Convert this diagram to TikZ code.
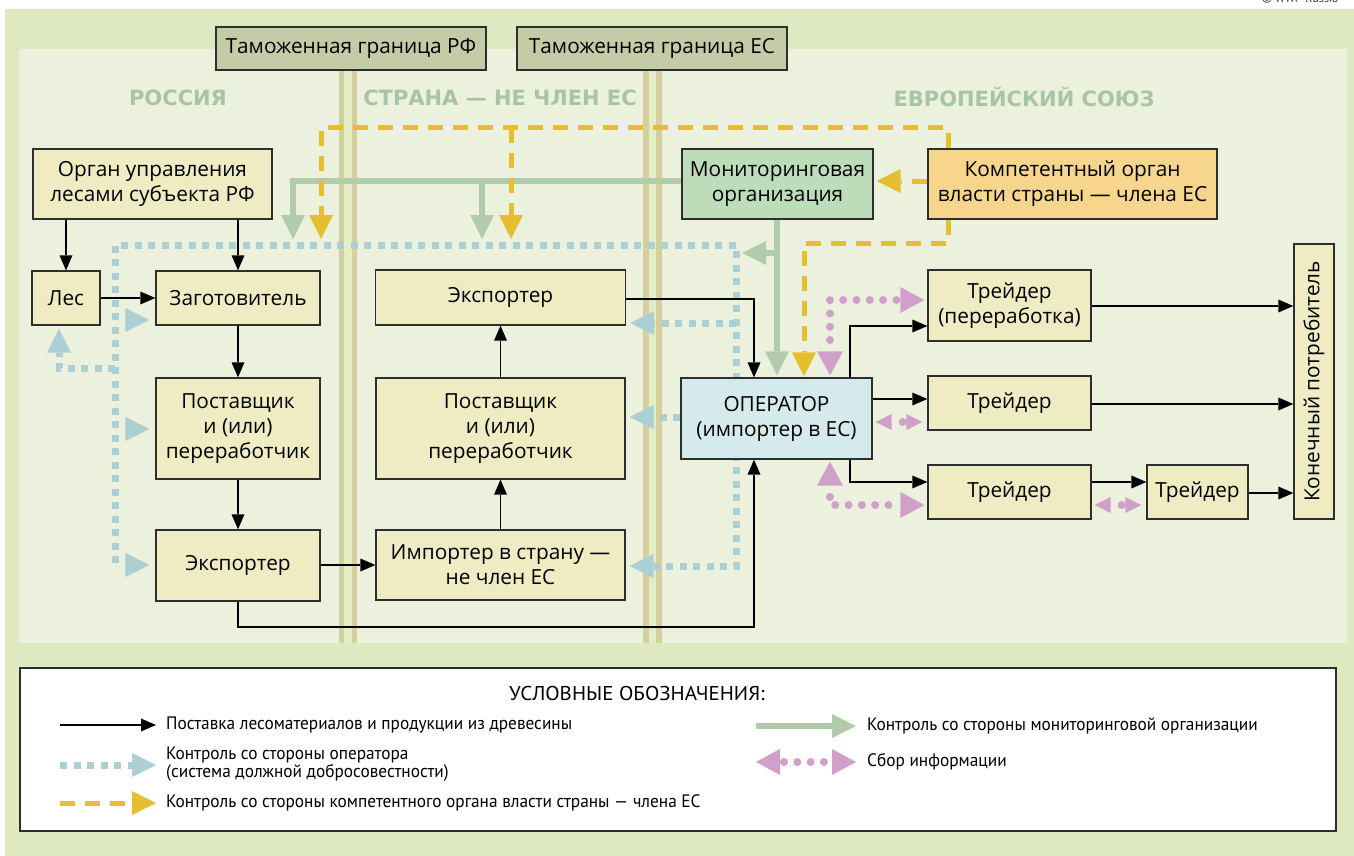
\documentclass[tikz,border=0pt]{standalone}
\usepackage{fontspec}
\usepackage{graphicx}
\setmainfont{PT Sans}
\newfontfamily\boxfamily{Open Sans}
\newfontfamily\headfont{DejaVu Sans}
\newfontfamily\legfont[FakeStretch=0.96]{PT Sans}
\newfontfamily\titfont[FakeStretch=1.05]{PT Sans}
\usetikzlibrary{arrows.meta}
\pgfdeclarelayer{behind}
\pgfsetlayers{behind,main}
\definecolor{outerbg}{HTML}{DFE9C1}
\definecolor{innerbg}{HTML}{EBF1DC}
\definecolor{beige}{HTML}{EFEBC3}
\definecolor{custc}{HTML}{C3CCA7}
\definecolor{monc}{HTML}{BDDCBA}
\definecolor{compc}{HTML}{F6D68C}
\definecolor{operc}{HTML}{D5EAEA}
\definecolor{tanc}{HTML}{D5CF9E}
\definecolor{gapc}{HTML}{E3EDC6}
\definecolor{bdot}{HTML}{ABCFD3}
\definecolor{grn}{HTML}{B0CCAB}
\definecolor{yel}{HTML}{E6BF30}
\definecolor{pinkc}{HTML}{D0A0CA}
\definecolor{headc}{HTML}{A9C4A4}
\definecolor{boxline}{HTML}{2E2E2E}
\newcommand\bfnt{\boxfamily\fontsize{20.8}{25}\selectfont}
\newcommand\lfnt{\legfont\fontsize{18}{18}\selectfont}
\begin{document}
\begin{tikzpicture}[x=1pt,y=-1pt,
  box/.style={draw=boxline, line width=1.3pt, fill=beige, inner sep=0pt, align=center, font=\bfnt},
  heading/.style={font=\headfont\bfseries\fontsize{21}{21}\selectfont, text=headc},
  flow/.style={draw=black, line width=1.3pt, -{Triangle[length=15pt,width=13pt,line width=0pt]}},
  bctrl/.style={draw=bdot, line width=7pt, dash pattern=on 7pt off 6.5pt, -{Triangle[length=24pt,width=24pt,line width=0pt]}},
  btip/.style={bctrl, dash pattern=on 0pt off 300pt, dash phase=150pt},
  gline/.style={draw=grn, line width=5.5pt, -{Triangle[length=24pt,width=24pt,line width=0pt]}},
  ydash/.style={draw=yel, line width=5pt, dash pattern=on 15pt off 10pt, -{Triangle[length=24pt,width=24pt,line width=0pt]}},
  pdot/.style={draw=pinkc, line width=8pt, line cap=round, dash pattern=on 0pt off 13.3pt, dash phase=2pt,
     {Triangle[length=24pt,width=26pt,line width=0pt]}-{Triangle[length=24pt,width=26pt,line width=0pt]}},
  psmall/.style={draw=pinkc, line width=8pt, line cap=round, dash pattern=on 0pt off 60pt, dash phase=49pt,
     {Triangle[length=16pt,width=16pt,line width=0pt]}-{Triangle[length=16pt,width=16pt,line width=0pt]}},
  leg/.style={font=\lfnt, anchor=west, align=left, inner sep=0pt}
]
\useasboundingbox (0,0) rectangle (1354,856);
\begin{pgfonlayer}{behind}
\fill[white] (0,0) rectangle (1354,856);
\fill[outerbg] (5,9) rectangle (1354,856);
\fill[innerbg] (19,49) rectangle (1347,643);
% border lines
\fill[tanc] (339,70) rectangle (344,643);
\fill[gapc] (344,70) rectangle (352,643);
\fill[tanc] (352,70) rectangle (357,643);
\fill[tanc] (643,70) rectangle (649,643);
\fill[gapc] (649,70) rectangle (656,643);
\fill[tanc] (656,70) rectangle (662,643);
\end{pgfonlayer}
\node[anchor=base west, font=\fontsize{12}{12}\selectfont, text=black!75, inner sep=0pt] (copy) at (1262,3) {© WWF-Russia};
% customs boxes
\node[box, fill=custc, minimum width=270pt, minimum height=43pt] (custRF) at (351,48.5) {Таможенная граница РФ};
\node[box, fill=custc, minimum width=270pt, minimum height=43pt] (custEC) at (652,48.5) {Таможенная граница ЕС};
% headings
\node[heading] (hRU) at (178,98) {РОССИЯ};
\node[heading] (hNC) at (500,98) {СТРАНА — НЕ ЧЛЕН ЕС};
\node[heading] (hEU) at (1024,97) {ЕВРОПЕЙСКИЙ СОЮЗ};
% boxes
\node[box, minimum width=239pt, minimum height=70pt] (organ) at (152.5,184) {Орган управления\\лесами субъекта РФ};
\node[box, minimum width=68pt, minimum height=54pt] (les) at (66,298) {Лес};
\node[box, minimum width=164pt, minimum height=54pt] (zag) at (238,298) {Заготовитель};
\node[box, minimum width=164pt, minimum height=101pt] (post1) at (238,428.5) {Поставщик\\и (или)\\переработчик};
\node[box, minimum width=164pt, minimum height=71pt] (exp1) at (238,565.5) {Экспортер};
\node[box, minimum width=250pt, minimum height=55pt] (exp2) at (500.5,297.5) {Экспортер};
\node[box, minimum width=249pt, minimum height=101pt] (post2) at (500.5,428.5) {Поставщик\\и (или)\\переработчик};
\node[box, minimum width=249pt, minimum height=70pt] (imp) at (500.5,565) {Импортер в страну —\\не член ЕС};
\node[box, fill=monc, minimum width=191pt, minimum height=70pt] (mon) at (777.5,184) {Мониторинговая\\организация};
\node[box, fill=compc, minimum width=289pt, minimum height=70pt] (comp) at (1072.5,184) {Компетентный орган\\власти страны — члена ЕС};
\node[box, fill=operc, minimum width=191pt, minimum height=81pt] (oper) at (776.5,418.5) {ОПЕРАТОР\\(импортер в ЕС)};
\node[box, minimum width=163pt, minimum height=71pt] (tr1) at (1009.5,305.5) {Трейдер\\(переработка)};
\node[box, minimum width=163pt, minimum height=54pt] (tr2) at (1009.5,403) {Трейдер};
\node[box, minimum width=163pt, minimum height=54pt] (tr3) at (1009.5,492) {Трейдер};
\node[box, minimum width=101pt, minimum height=54pt] (tr4) at (1197.5,492) {Трейдер};
\node[box, minimum width=40pt, minimum height=275pt] (cons) at (1314,381.5) {\rotatebox{90}{Конечный потребитель}};
% operator control (blue dotted) -- runs behind the boxes
\begin{pgfonlayer}{behind}
\draw[bctrl, shorten >=4pt] (115,563) -- (115,245) -- (736,245) -- (736,566) -- (imp.east |- 0,566);
\end{pgfonlayer}
\draw[bctrl, shorten >=3pt] (115,368) -- (59,368) -- (les.south -| 59,0);
\draw[bctrl, shorten >=4pt] (736,323) -- (exp2.east |- 0,323);
\draw[bctrl, shorten >=4pt] (oper.west |- 0,417) -- (post2.east |- 0,417);
\draw[btip, shorten >=6pt] (115,320) -- (zag.west |- 0,320);
\draw[btip, shorten >=6pt] (115,429) -- (post1.west |- 0,429);
\draw[btip, shorten >=6pt] (115,565) -- (exp1.west |- 0,565);
% monitoring control (green)
\draw[gline] (mon.west |- 0,181) -| (293,239);
\draw[gline] (482,181) -- (482,239);
\draw[gline, shorten >=2pt] (mon.south -| 777,0) -- (oper.north -| 777,0);
\draw[gline] (777,253) -- (742,253);
% competent authority control (yellow dashed)
\draw[ydash] (comp.north -| 948,0) |- (321,128) -- (321,239);
\draw[ydash] (511,128) -- (511,239);
\draw[ydash, shorten >=3pt] (comp.west |- 0,181) -- (mon.east |- 0,181);
\draw[ydash, shorten >=1pt] (comp.south -| 948,0) |- (804,243) -- (oper.north -| 804,0);
% information (pink)
\draw[pdot, shorten <=2pt, shorten >=3pt] (oper.north -| 830,0) |- (tr1.west |- 0,300);
\draw[pdot, shorten <=2pt, shorten >=3pt] (oper.south -| 830,0) |- (tr3.west |- 0,505);
\draw[psmall, shorten <=3pt, shorten >=5pt] (oper.east |- 0,422) -- (tr2.west |- 0,422);
\draw[psmall, shorten <=3pt, shorten >=5pt] (tr3.east |- 0,505) -- (tr4.west |- 0,505);
% supply flows (black)
\draw[flow] (les.north |- organ.south) -- (les.north);
\draw[flow] (zag.north |- organ.south) -- (zag.north);
\draw[flow] (les) -- (zag);
\draw[flow] (zag) -- (post1);
\draw[flow] (post1) -- (exp1);
\draw[flow] (exp1.east |- 0,565) -- (imp.west |- 0,565);
\draw[flow] (imp.north) -- (post2.south);
\draw[flow] (post2.north) -- (exp2.south -| post2.north);
\draw[flow] (exp1.south) |- (754,627) -- (oper.south -| 754,0);
\draw[flow] (exp2.east |- 0,299) -| (oper.north -| 754,0);
\draw[flow] (oper.north -| 850,0) |- (tr1.west |- 0,326);
\draw[flow] (oper.east |- 0,399) -- (tr2.west |- 0,399);
\draw[flow] (oper.south -| 850,0) |- (tr3.west |- 0,482);
\draw[flow] (tr3.east |- 0,482) -- (tr4.west |- 0,482);
\draw[flow] (tr1.east |- 0,306) -- (cons.west |- 0,306);
\draw[flow] (tr2.east |- 0,404) -- (cons.west |- 0,404);
\draw[flow] (tr4.east |- 0,493) -- (cons.west |- 0,493);
% legend
\node[draw=boxline, line width=1.3pt, fill=white, minimum width=1316pt, minimum height=163pt, inner sep=0pt] (legend) at (678,749.5) {};
\node[font=\titfont\fontsize{20}{20}\selectfont] (ltitle) at (637,693) {УСЛОВНЫЕ ОБОЗНАЧЕНИЯ:};
\coordinate (l1a) at (60,725); \coordinate (l1b) at (156,725);
\coordinate (l2a) at (60,765); \coordinate (l2b) at (156,765);
\coordinate (l3a) at (60,803); \coordinate (l3b) at (156,803);
\coordinate (l4a) at (756,726); \coordinate (l4b) at (856,726);
\coordinate (l5a) at (756,762); \coordinate (l5b) at (856,762);
\draw[flow] (l1a) -- (l1b);
\draw[bctrl] (l2a) -- (l2b);
\draw[ydash] (l3a) -- (l3b);
\draw[gline] (l4a) -- (l4b);
\draw[pdot, dash phase=-4pt] (l5a) -- (l5b);
\node[leg] (t1) at (166,725) {Поставка лесоматериалов и продукции из древесины};
\node[leg] (t2) at (166,764) {Контроль со стороны оператора\\(система должной добросовестности)};
\node[leg] (t3) at (166,803) {Контроль со стороны компетентного органа власти страны — члена ЕС};
\node[leg] (t4) at (867,726) {Контроль со стороны мониторинговой организации};
\node[leg] (t5) at (867,762) {Сбор информации};
\end{tikzpicture}
\end{document}
